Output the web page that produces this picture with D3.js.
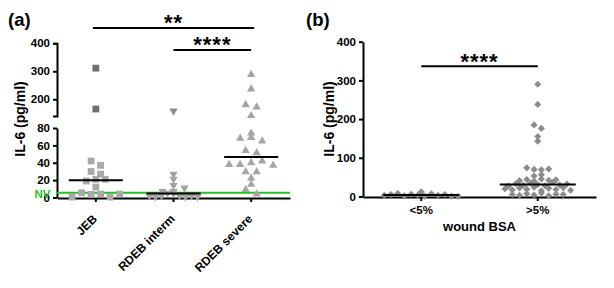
<!DOCTYPE html>
<html><head><meta charset="utf-8">
<script src="https://cdn.jsdelivr.net/npm/d3@7"></script>
<style>
body{margin:0;background:#fff}
svg text{font-family:"Liberation Sans",Arial,sans-serif;font-weight:bold}
</style>
</head><body>
<svg id="chart" width="614" height="288"></svg>
<script>
// ---------- data (panel a) ----------
const groupsA = ["JEB", "RDEB interm", "RDEB severe"];
const jebValues = [311, 165, 42, 37, 30, 27, 19, 21, 21, 12, 0.5, 5.5, 3.5, 4, 0.5, 4];
const intermValues = [158, 27, 21, 14, 7, 7, 11, 2, 1, 2, 5, 4, 2, 1, 2, 1];
const severeValues = [288, 236, 180, 172, 141, 68, 69, 65, 74, 54, 51.5, 38, 38, 40, 42, 37, 29.5, 29.5, 22, 15, 9, 4];
const upperTicksA = [200, 300, 400];
const lowerTicksA = [0, 20, 40, 60, 80];
const nvValue = 5.5;
const sigA1 = ["JEB", "RDEB severe", "**"];
const sigA2 = ["RDEB interm", "RDEB severe", "****"];
// ---------- data (panel b) ----------
const groupsB = ["<5%", ">5%"];
const lowBsaValues = [3, 12, 5, 8, 2, 6, 4, 1, 7, 3, 5, 1, 0.5];
const highBsaValues = [185, 176, 155, 143, 290, 238,
  5, 3, 7, 4, 9, 2, 6, 5,
  20, 17, 22, 19, 24, 15, 21, 18, 23, 16,
  27, 33, 29, 35, 31, 28, 36, 30, 32,
  41, 44, 40, 45, 42, 43,
  53, 56,
  74, 70, 69, 71];
const ticksB = [0, 100, 200, 300, 400];
const sigB = ["<5%", ">5%", "****"];

const FONT = '"Liberation Sans", Arial, sans-serif';
const svg = d3.select("#chart");

function swarm(values, yFn, rowH, spacing, maxW) {
  const items = values.map((v, i) => ({v, i, y: yFn(v), dx: 0}));
  const sorted = items.slice().sort((a, b) => b.y - a.y);
  const rows = []; let cur = null;
  for (const it of sorted) {
    if (!cur || cur.start - it.y > rowH) { cur = {start: it.y, pts: []}; rows.push(cur); }
    cur.pts.push(it);
  }
  for (const r of rows) {
    r.pts.sort((a, b) => a.i - b.i);
    const n = r.pts.length;
    const s = n > 1 ? Math.min(spacing, maxW / (n - 1)) : 0;
    r.pts.forEach((p, k) => p.dx = (k - (n - 1) / 2) * s);
  }
  return items;
}
function styleAxis(g) {
  g.attr("font-family", FONT).attr("font-size", 11.5).attr("font-weight", "bold");
  g.selectAll("path.domain, .tick line").attr("stroke", "#000").attr("stroke-width", 2);
  g.selectAll(".tick text").attr("fill", "#000");
}

// ================= Panel (a) =================
const xA = d3.scaleBand().domain(groupsA).range([57, 290]).padding(0);
const yUp = d3.scaleLinear().domain([140, 400]).range([116, 43.3]);
const yLo = d3.scaleLinear().domain([0, 80]).range([197.5, 128]);
const yA = v => v > 80 ? yUp(v) : yLo(v);

svg.append("g").attr("transform", "translate(57,0)")
  .call(d3.axisLeft(yUp).tickValues(upperTicksA).tickSize(4).tickSizeOuter(4))
  .call(styleAxis);
svg.append("g").attr("transform", "translate(57,0)")
  .call(d3.axisLeft(yLo).tickValues(lowerTicksA).tickSize(4).tickSizeOuter(0))
  .call(styleAxis);
svg.append("g").attr("transform", "translate(0,198)")
  .call(d3.axisBottom(xA).tickSize(4).tickSizeOuter(0).tickFormat(""))
  .call(styleAxis);

// category labels (rotated)
svg.append("g").selectAll("text").data(groupsA).join("text")
  .attr("transform", d => `translate(${xA(d) + xA.bandwidth() / 2 + 2},219.5) rotate(-45)`)
  .attr("text-anchor", "end").attr("font-size", 12).attr("fill", "#000").text(d => d);

// NV line
svg.append("line").attr("x1", 57).attr("x2", 290)
  .attr("y1", yLo(nvValue)).attr("y2", yLo(nvValue))
  .attr("stroke", "#22c322").attr("stroke-width", 2);
svg.append("text").attr("x", 50.5).attr("y", 198).attr("text-anchor", "end")
  .attr("font-size", 11.5).attr("fill", "#1fbf1f").text("NV");

const seriesA = [
  {g: "JEB", vals: jebValues, shape: d3.symbolSquare, size: 46, rot: 0, lo: "#a9a9a9", hi: "#6f6f6f", sp: 9.5},
  {g: "RDEB interm", vals: intermValues, shape: d3.symbolTriangle, size: 30, rot: 180, lo: "#a3a3a3", hi: "#8d8d8d", sp: 11},
  {g: "RDEB severe", vals: severeValues, shape: d3.symbolTriangle, size: 30, rot: 0, lo: "#a6a6a6", hi: "#a3a3a3", sp: 11}
];
seriesA.forEach(s => {
  const cx = xA(s.g) + xA.bandwidth() / 2;
  const pts = swarm(s.vals, yA, 5, s.sp, 48);
  svg.append("g").selectAll("path").data(pts).join("path")
    .attr("d", d3.symbol().type(s.shape).size(s.size))
    .attr("transform", d => `translate(${cx + d.dx},${d.y}) rotate(${s.rot})`)
    .attr("fill", d => d.v > 80 ? s.hi : s.lo);
  const med = d3.median(s.vals);
  svg.append("line").attr("x1", cx - 27).attr("x2", cx + 27)
    .attr("y1", yA(med)).attr("y2", yA(med)).attr("stroke", "#000").attr("stroke-width", 2);
});

function sigBar(x1, x2, y, label, ty) {
  svg.append("line").attr("x1", x1).attr("x2", x2).attr("y1", y).attr("y2", y)
    .attr("stroke", "#000").attr("stroke-width", 2);
  svg.append("text").attr("x", (x1 + x2) / 2).attr("y", ty).attr("text-anchor", "middle")
    .attr("font-size", 22).attr("letter-spacing", 1).attr("fill", "#000").text(label);
}
const cA = g => xA(g) + xA.bandwidth() / 2;
sigBar(cA(sigA1[0]) - 3, cA(sigA1[1]) + 3, 28, sigA1[2], 29.5);
sigBar(cA(sigA2[0]), cA(sigA2[1]), 50, sigA2[2], 52);

svg.append("text").attr("transform", "translate(25,119) rotate(-90)")
  .attr("text-anchor", "middle").attr("font-size", 14).attr("fill", "#000").text("IL-6 (pg/ml)");
svg.append("text").attr("x", 8).attr("y", 26).attr("font-size", 18.5).attr("fill", "#000").text("(a)");

// ================= Panel (b) =================
const xB = d3.scaleBand().domain(groupsB).range([363, 596]).padding(0);
const yB = d3.scaleLinear().domain([0, 400]).range([196.5, 41.7]);

svg.append("g").attr("transform", "translate(363,0)")
  .call(d3.axisLeft(yB).tickValues(ticksB).tickSize(4).tickSizeOuter(0))
  .call(styleAxis);
svg.append("g").attr("transform", "translate(0,197)")
  .call(d3.axisBottom(xB).tickSize(4).tickSizeOuter(0).tickFormat(""))
  .call(styleAxis);
svg.append("g").selectAll("text").data(groupsB).join("text")
  .attr("x", d => xB(d) + xB.bandwidth() / 2).attr("y", 214)
  .attr("text-anchor", "middle").attr("font-size", 11.5).attr("fill", "#000").text(d => d);
svg.append("text").attr("x", (363 + 596) / 2).attr("y", 230.5).attr("text-anchor", "middle")
  .attr("font-size", 13).attr("fill", "#000").text("wound BSA");

[[groupsB[0], lowBsaValues], [groupsB[1], highBsaValues]].forEach(([g, vals]) => {
  const cx = xB(g) + xB.bandwidth() / 2;
  const pts = swarm(vals, yB, 4.4, 7.3, 74);
  svg.append("g").selectAll("path").data(pts).join("path")
    .attr("d", d3.symbol().type(d3.symbolSquare).size(25))
    .attr("transform", d => `translate(${cx + d.dx},${d.y}) rotate(45)`)
    .attr("fill", "#8c8c8c");
  const med = d3.median(vals);
  svg.append("line").attr("x1", cx - 38).attr("x2", cx + 38)
    .attr("y1", yB(med)).attr("y2", yB(med)).attr("stroke", "#000").attr("stroke-width", 2);
});
const cB = g => xB(g) + xB.bandwidth() / 2;
sigBar(cB(sigB[0]), cB(sigB[1]), 66.3, sigB[2], 68.5);

svg.append("text").attr("transform", "translate(334,119) rotate(-90)")
  .attr("text-anchor", "middle").attr("font-size", 14).attr("fill", "#000").text("IL-6 (pg/ml)");
svg.append("text").attr("x", 306).attr("y", 26).attr("font-size", 18.5).attr("fill", "#000").text("(b)");
</script>
</body></html>
